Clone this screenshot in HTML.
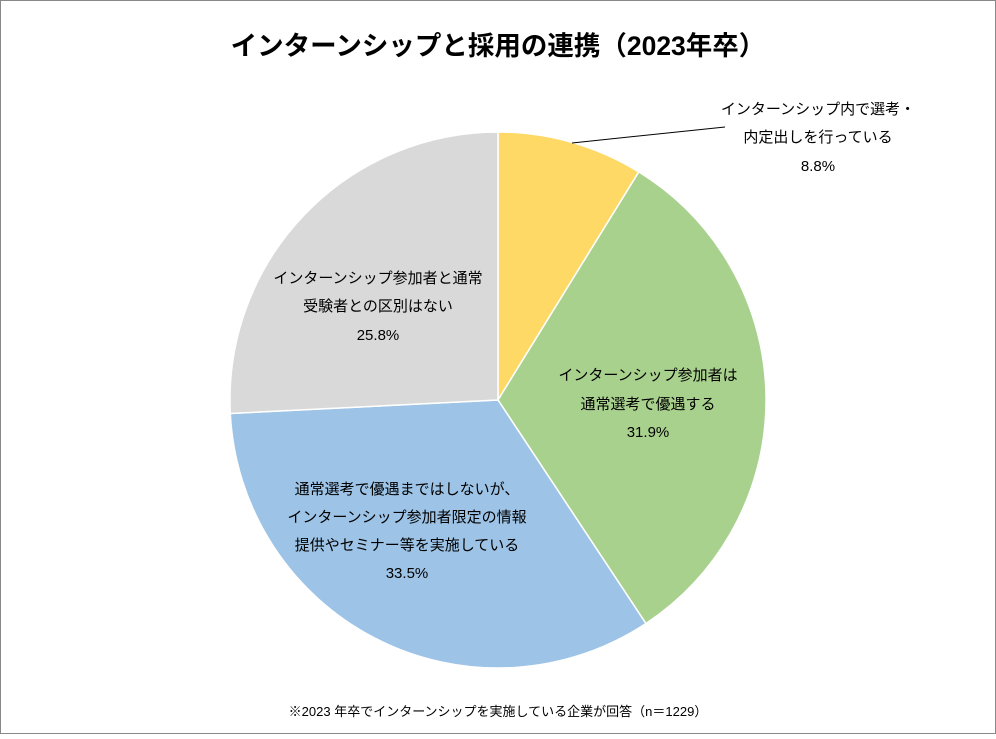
<!DOCTYPE html>
<html><head><meta charset="utf-8"><style>
body{margin:0;background:#fff;}
svg text{font-family:"Liberation Sans","Noto Sans CJK JP",sans-serif;fill:#000;}
</style></head><body>
<svg width="996" height="734" xmlns="http://www.w3.org/2000/svg">
<rect x="0.5" y="0.5" width="995" height="733" fill="#fff" stroke="#888"/>
<text x="498" y="55" font-size="26.5" font-weight="bold" text-anchor="middle">インターンシップと採用の連携（2023年卒）</text>
<g stroke="#fff" stroke-width="1.5">
<path d="M498,400 L498,132 A268,268 0 0 1 638.8,171.9 Z" fill="#FFD966"/>
<path d="M498,400 L638.8,171.9 A268,268 0 0 1 645.9,623.5 Z" fill="#A9D18E"/>
<path d="M498,400 L645.9,623.5 A268,268 0 0 1 230.3,413.5 Z" fill="#9DC3E6"/>
<path d="M498,400 L230.3,413.5 A268,268 0 0 1 498,132 Z" fill="#D9D9D9"/>
</g>
<polyline points="572,143 725,127" fill="none" stroke="#000" stroke-width="1"/>
<g font-size="15" text-anchor="middle">
<text x="818" y="114">インターンシップ内で選考・</text>
<text x="818" y="142">内定出しを行っている</text>
<text x="818" y="171">8.8%</text>
<text x="648" y="380">インターンシップ参加者は</text>
<text x="648" y="409">通常選考で優遇する</text>
<text x="648" y="437">31.9%</text>
<text x="407" y="494">通常選考で優遇まではしないが、</text>
<text x="407" y="522">インターンシップ参加者限定の情報</text>
<text x="407" y="550">提供やセミナー等を実施している</text>
<text x="407" y="578">33.5%</text>
<text x="378" y="283">インターンシップ参加者と通常</text>
<text x="378" y="311">受験者との区別はない</text>
<text x="378" y="340">25.8%</text>
</g>
<text x="498" y="716" font-size="13" text-anchor="middle">※2023 年卒でインターンシップを実施している企業が回答（n＝1229）</text>
</svg>
</body></html>
